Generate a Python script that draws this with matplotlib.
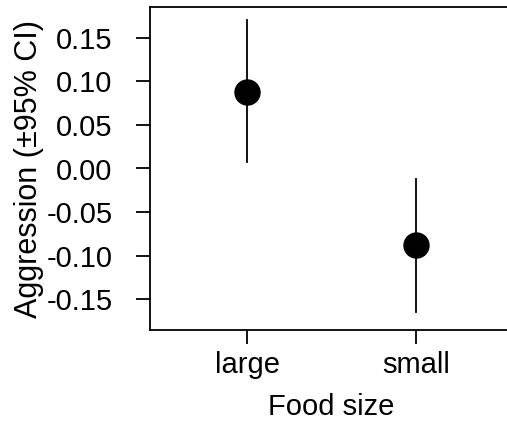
import matplotlib
matplotlib.use("Agg")
import matplotlib.pyplot as plt

# Datos
categorias = ["large", "small"]
medias = [0.088, -0.0877]
ci_sup = [0.170, -0.012]
ci_inf = [0.007, -0.164]
yticks = [-0.15, -0.10, -0.05, 0.00, 0.05, 0.10, 0.15]

plt.rcParams['font.family'] = ['Liberation Sans', 'DejaVu Sans']

fig = plt.figure(figsize=(5.07, 4.23), dpi=100)
ax = fig.add_axes([150/507, 1-330/423, 363/507, 323/423])

x = [1, 2]
for xi, lo, hi in zip(x, ci_inf, ci_sup):
    ax.plot([xi, xi], [lo, hi], color="black", lw=1.3)
ax.plot(x, medias, "o", color="black", markersize=18)

ax.set_xlim(0.426, 2.574)
ax.set_ylim(-0.185, 0.185)
ax.set_xticks(x)
ax.set_xticklabels(categorias)
ax.set_yticks(yticks)
ax.set_yticklabels(["%.2f" % v for v in yticks])

for s in ax.spines.values():
    s.set_linewidth(1.3)
ax.tick_params(length=10, width=1.3, labelsize=21)
ax.tick_params(axis="y", pad=17)
ax.tick_params(axis="x", pad=5)
ax.set_xlabel("Food size", fontsize=21, labelpad=10)
ax.set_ylabel("Aggression (\u00b195% CI)", fontsize=22, labelpad=2)

fig.savefig("out.png", dpi=100)
